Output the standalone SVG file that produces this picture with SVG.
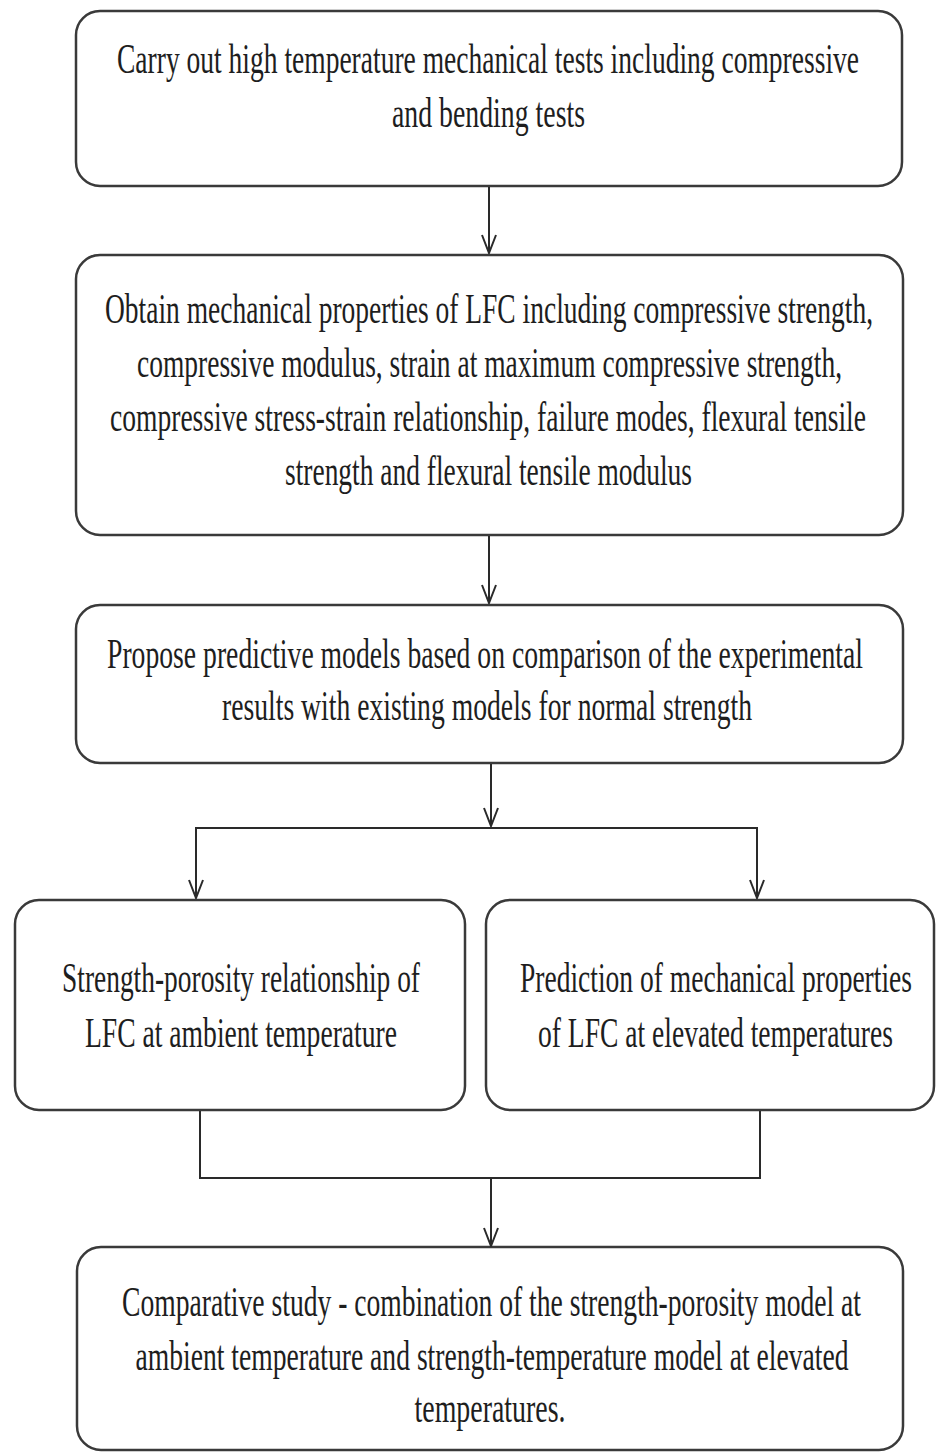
<svg xmlns="http://www.w3.org/2000/svg" width="936" height="1454" viewBox="0 0 936 1454">
<style>
.box{fill:#fff;stroke:#3a3a3a;stroke-width:2.5}
.t{font-family:"Liberation Serif","Times New Roman",serif;font-size:27.5px;fill:#1e1e1e;text-anchor:middle}
.ln{fill:none;stroke:#2a2a2a;stroke-width:2}
</style>
<defs>
<marker id="v" markerWidth="20" markerHeight="16" refX="19" refY="8" orient="auto" markerUnits="userSpaceOnUse" viewBox="0 0 20 16">
<path d="M1,1 L19,8 L1,15" fill="none" stroke="#2a2a2a" stroke-width="2"/>
</marker>
</defs>
<rect width="936" height="1454" fill="#fff"/>
<g id="n1">
<rect class="box" x="76" y="11" width="826" height="175" rx="24"/>
<text class="t" transform="translate(488,73) scale(1,1.53)" textLength="742" lengthAdjust="spacingAndGlyphs">Carry out high temperature mechanical tests including compressive</text>
<text class="t" transform="translate(488.5,127) scale(1,1.53)" textLength="193" lengthAdjust="spacingAndGlyphs">and bending tests</text>
</g>
<g id="n2">
<rect class="box" x="76" y="255" width="827" height="280" rx="24"/>
<text class="t" transform="translate(489,323) scale(1,1.53)" textLength="768" lengthAdjust="spacingAndGlyphs">Obtain mechanical properties of LFC including compressive strength,</text>
<text class="t" transform="translate(489.5,377) scale(1,1.53)" textLength="705" lengthAdjust="spacingAndGlyphs">compressive modulus, strain at maximum compressive strength,</text>
<text class="t" transform="translate(488,431) scale(1,1.53)" textLength="756" lengthAdjust="spacingAndGlyphs">compressive stress-strain relationship, failure modes, flexural tensile</text>
<text class="t" transform="translate(488.5,485) scale(1,1.53)" textLength="407" lengthAdjust="spacingAndGlyphs">strength and flexural tensile modulus</text>
</g>
<g id="n3">
<rect class="box" x="76" y="605" width="827" height="158" rx="24"/>
<text class="t" transform="translate(485,668) scale(1,1.53)" textLength="756" lengthAdjust="spacingAndGlyphs">Propose predictive models based on comparison of the experimental</text>
<text class="t" transform="translate(487,720) scale(1,1.53)" textLength="530" lengthAdjust="spacingAndGlyphs">results with existing models for normal strength</text>
</g>
<g id="n4">
<rect class="box" x="15" y="900" width="450" height="210" rx="24"/>
<text class="t" transform="translate(241,992) scale(1,1.53)" textLength="358" lengthAdjust="spacingAndGlyphs">Strength-porosity relationship of</text>
<text class="t" transform="translate(241,1047) scale(1,1.53)" textLength="312" lengthAdjust="spacingAndGlyphs">LFC at ambient temperature</text>
</g>
<g id="n5">
<rect class="box" x="486" y="900" width="448" height="210" rx="24"/>
<text class="t" transform="translate(716,992) scale(1,1.53)" textLength="392" lengthAdjust="spacingAndGlyphs">Prediction of mechanical properties</text>
<text class="t" transform="translate(715.5,1047) scale(1,1.53)" textLength="355" lengthAdjust="spacingAndGlyphs">of LFC at elevated temperatures</text>
</g>
<g id="n6">
<rect class="box" x="77" y="1247" width="826" height="203" rx="24"/>
<text class="t" transform="translate(491.5,1316) scale(1,1.53)" textLength="739" lengthAdjust="spacingAndGlyphs">Comparative study - combination of the strength-porosity model at</text>
<text class="t" transform="translate(492,1370) scale(1,1.53)" textLength="713" lengthAdjust="spacingAndGlyphs">ambient temperature and strength-temperature model at elevated</text>
<text class="t" transform="translate(490,1422) scale(1,1.53)" textLength="151" lengthAdjust="spacingAndGlyphs">temperatures.</text>
</g>
<g id="connectors">
<path class="ln" d="M489,187 V253" marker-end="url(#v)"/>
<path class="ln" d="M489,536 V603" marker-end="url(#v)"/>
<path class="ln" d="M491,764 V826" marker-end="url(#v)"/>
<path class="ln" d="M196,898 V828 H757 V898" stroke-width="3"/>
<path class="ln" d="M196,840 V898" marker-end="url(#v)"/>
<path class="ln" d="M757,840 V898" marker-end="url(#v)"/>
<path class="ln" d="M200,1111 V1178 H760 V1111" stroke-width="3"/>
<path class="ln" d="M491,1178 V1246" marker-end="url(#v)"/>
</g>
</svg>
